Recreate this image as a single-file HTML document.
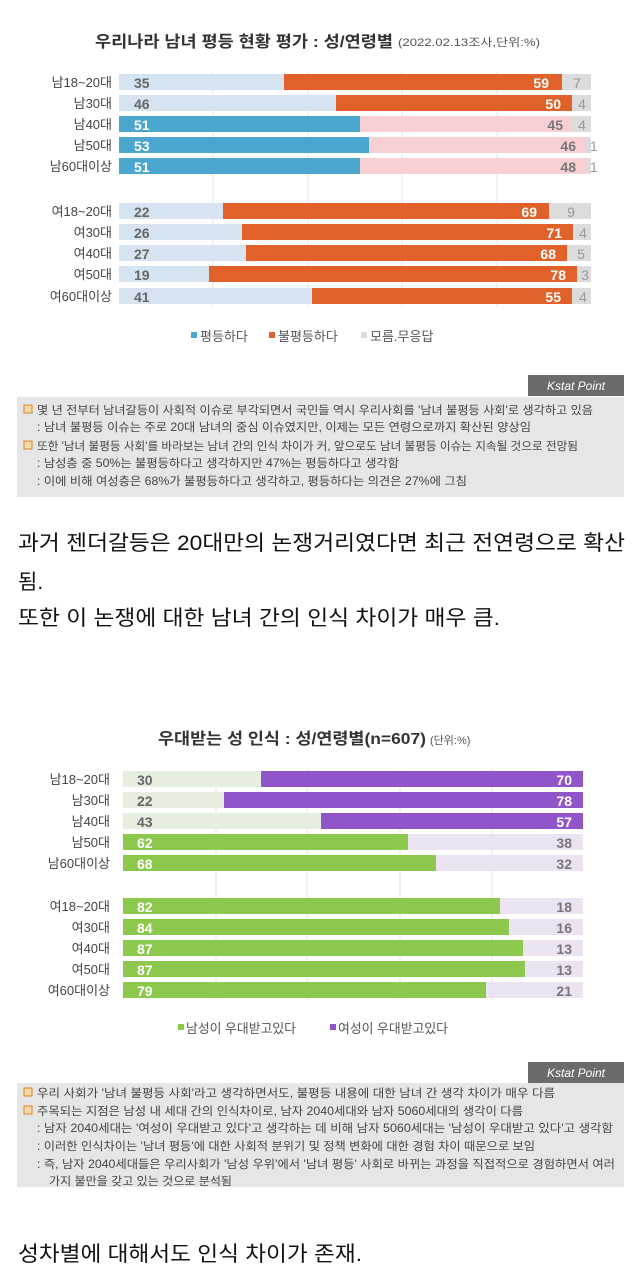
<!DOCTYPE html>
<html><head><meta charset="utf-8"><style>
html,body{margin:0;padding:0;background:#fff;}
svg{display:block;font-family:"Liberation Sans","Noto Sans CJK KR",sans-serif;}
</style></head><body>
<svg width="640" height="1280" viewBox="0 0 640 1280" xmlns="http://www.w3.org/2000/svg">
<rect width="640" height="1280" fill="#fff"/>

<!-- Chart 1 -->
<text x="95" y="47" font-size="16" font-weight="bold" fill="#333" textLength="298" lengthAdjust="spacingAndGlyphs">우리나라 남녀 평등 현황 평가 : 성/연령별</text>
<text x="398" y="46" font-size="11" fill="#555" textLength="142" lengthAdjust="spacingAndGlyphs">(2022.02.13조사,단위:%)</text>
<g stroke="#e4e4e4" stroke-width="1">
<line x1="213" y1="72" x2="213" y2="306"/><line x1="308" y1="72" x2="308" y2="306"/><line x1="402" y1="72" x2="402" y2="306"/><line x1="497" y1="72" x2="497" y2="306"/>
</g>
<g font-size="13" fill="#444" text-anchor="end">
<text x="112" y="87">남18~20대</text><text x="112" y="108">남30대</text><text x="112" y="129">남40대</text><text x="112" y="150">남50대</text><text x="112" y="171">남60대이상</text>
<text x="112" y="216">여18~20대</text><text x="112" y="237">여30대</text><text x="112" y="258">여40대</text><text x="112" y="279">여50대</text><text x="112" y="301">여60대이상</text>
</g>
<g id="c1bars"></g>
<!-- rows: y top = center-8 -->
<g>
<!-- M18-20: 35,59,7 -->
<rect x="119" y="74" width="472" height="16" fill="#dcdcdc"/><rect x="119" y="74" width="165" height="16" fill="#d6e3f1"/><rect x="284" y="74" width="278" height="16" fill="#e0622a"/>
<!-- M30: 46,50,4 -->
<rect x="119" y="95" width="472" height="16" fill="#dcdcdc"/><rect x="119" y="95" width="217" height="16" fill="#d6e3f1"/><rect x="336" y="95" width="236" height="16" fill="#e0622a"/>
<!-- M40: 51,45,4 -->
<rect x="119" y="116" width="472" height="16" fill="#dcdcdc"/><rect x="119" y="116" width="241" height="16" fill="#4aa6cf"/><rect x="360" y="116" width="212" height="16" fill="#f7d0d4"/>
<!-- M50: 53,46,1 -->
<rect x="119" y="137" width="472" height="16" fill="#dcdcdc"/><rect x="119" y="137" width="250" height="16" fill="#4aa6cf"/><rect x="369" y="137" width="217" height="16" fill="#f7d0d4"/>
<!-- M60: 51,48,1 -->
<rect x="119" y="158" width="472" height="16" fill="#dcdcdc"/><rect x="119" y="158" width="241" height="16" fill="#4aa6cf"/><rect x="360" y="158" width="227" height="16" fill="#f7d0d4"/>
<!-- W18-20: 22,69,9 -->
<rect x="119" y="203" width="472" height="16" fill="#dcdcdc"/><rect x="119" y="203" width="104" height="16" fill="#d6e3f1"/><rect x="223" y="203" width="326" height="16" fill="#e0622a"/>
<!-- W30: 26,71,4 -->
<rect x="119" y="224" width="472" height="16" fill="#dcdcdc"/><rect x="119" y="224" width="123" height="16" fill="#d6e3f1"/><rect x="242" y="224" width="331" height="16" fill="#e0622a"/>
<!-- W40: 27,68,5 -->
<rect x="119" y="245" width="472" height="16" fill="#dcdcdc"/><rect x="119" y="245" width="127" height="16" fill="#d6e3f1"/><rect x="246" y="245" width="321" height="16" fill="#e0622a"/>
<!-- W50: 19,78,3 -->
<rect x="119" y="266" width="472" height="16" fill="#dcdcdc"/><rect x="119" y="266" width="90" height="16" fill="#d6e3f1"/><rect x="209" y="266" width="368" height="16" fill="#e0622a"/>
<!-- W60: 41,55,4 -->
<rect x="119" y="288" width="472" height="16" fill="#dcdcdc"/><rect x="119" y="288" width="193" height="16" fill="#d6e3f1"/><rect x="312" y="288" width="260" height="16" fill="#e0622a"/>
</g>
<g font-size="14" font-weight="bold">
<text x="134" y="88" fill="#666">35</text><text x="549" y="88" fill="#fff" text-anchor="end">59</text><text x="577" y="88" fill="#999" text-anchor="middle" font-weight="normal">7</text>
<text x="134" y="109" fill="#666">46</text><text x="561" y="109" fill="#fff" text-anchor="end">50</text><text x="582" y="109" fill="#999" text-anchor="middle" font-weight="normal">4</text>
<text x="134" y="130" fill="#fff">51</text><text x="563" y="130" fill="#777" text-anchor="end">45</text><text x="582" y="130" fill="#999" text-anchor="middle" font-weight="normal">4</text>
<text x="134" y="151" fill="#fff">53</text><text x="576" y="151" fill="#777" text-anchor="end">46</text><text x="590" y="151" fill="#999" font-weight="normal">1</text>
<text x="134" y="172" fill="#fff">51</text><text x="576" y="172" fill="#777" text-anchor="end">48</text><text x="590" y="172" fill="#999" font-weight="normal">1</text>
<text x="134" y="217" fill="#666">22</text><text x="537" y="217" fill="#fff" text-anchor="end">69</text><text x="571" y="217" fill="#999" text-anchor="middle" font-weight="normal">9</text>
<text x="134" y="238" fill="#666">26</text><text x="562" y="238" fill="#fff" text-anchor="end">71</text><text x="583" y="238" fill="#999" text-anchor="middle" font-weight="normal">4</text>
<text x="134" y="259" fill="#666">27</text><text x="556" y="259" fill="#fff" text-anchor="end">68</text><text x="581" y="259" fill="#999" text-anchor="middle" font-weight="normal">5</text>
<text x="134" y="280" fill="#666">19</text><text x="566" y="280" fill="#fff" text-anchor="end">78</text><text x="585" y="280" fill="#999" text-anchor="middle" font-weight="normal">3</text>
<text x="134" y="302" fill="#666">41</text><text x="561" y="302" fill="#fff" text-anchor="end">55</text><text x="583" y="302" fill="#999" text-anchor="middle" font-weight="normal">4</text>
</g>
<g font-size="13" fill="#555">
<rect x="191" y="332" width="6" height="6" fill="#4aa6cf"/><text x="200" y="341">평등하다</text>
<rect x="269" y="332" width="6" height="6" fill="#e0622a"/><text x="278" y="341">불평등하다</text>
<rect x="361" y="332" width="6" height="6" fill="#dcdcdc"/><text x="370" y="341">모름.무응답</text>
</g>

<!-- Kstat box 1 -->
<rect x="528" y="375" width="96" height="21" fill="#6b6b6b"/>
<text x="576" y="390" font-size="12" font-style="italic" fill="#fff" text-anchor="middle">Kstat  Point</text>
<rect x="17" y="397" width="607" height="100" fill="#e6e6e6"/>
<g font-size="11.5" fill="#444">
<rect x="24" y="405" width="8" height="8" fill="#f3d9a4" stroke="#d9822b"/>
<text x="37" y="414" textLength="556" lengthAdjust="spacingAndGlyphs">몇 년 전부터 남녀갈등이 사회적 이슈로 부각되면서 국민들 역시 우리사회를 '남녀 불평등 사회'로 생각하고 있음</text>
<text x="37" y="431" textLength="494" lengthAdjust="spacingAndGlyphs">: 남녀 불평등 이슈는 주로 20대 남녀의 중심 이슈였지만, 이제는 모든 연령으로까지 확산된 양상임</text>
<rect x="24" y="441" width="8" height="8" fill="#f3d9a4" stroke="#d9822b"/>
<text x="37" y="450" textLength="541" lengthAdjust="spacingAndGlyphs">또한 '남녀 불평등 사회'를 바라보는 남녀 간의 인식 차이가 커, 앞으로도 남녀 불평등 이슈는 지속될 것으로 전망됨</text>
<text x="37" y="467" textLength="362" lengthAdjust="spacingAndGlyphs">: 남성층 중 50%는 불평등하다고 생각하지만 47%는 평등하다고 생각함</text>
<text x="37" y="485" textLength="430" lengthAdjust="spacingAndGlyphs">: 이에 비해 여성층은 68%가 불평등하다고 생각하고, 평등하다는 의견은 27%에 그침</text>
</g>

<g font-size="21" fill="#111">
<text x="18" y="550" textLength="607" lengthAdjust="spacingAndGlyphs">과거 젠더갈등은 20대만의 논쟁거리였다면 최근 전연령으로 확산</text>
<text x="18" y="589">됨.</text>
<text x="18" y="625" textLength="482" lengthAdjust="spacingAndGlyphs">또한 이 논쟁에 대한 남녀 간의 인식 차이가 매우 큼.</text>
</g>

<!-- Chart 2 -->
<text x="158" y="744" font-size="16" font-weight="bold" fill="#333" textLength="268" lengthAdjust="spacingAndGlyphs">우대받는 성 인식 : 성/연령별(n=607)</text>
<text x="430" y="744" font-size="11" fill="#555">(단위:%)</text>
<g stroke="#e4e4e4" stroke-width="1">
<line x1="216" y1="769" x2="216" y2="1000"/><line x1="307" y1="769" x2="307" y2="1000"/><line x1="400" y1="769" x2="400" y2="1000"/><line x1="492" y1="769" x2="492" y2="1000"/>
</g>
<g font-size="13" fill="#444" text-anchor="end">
<text x="110" y="784">남18~20대</text><text x="110" y="805">남30대</text><text x="110" y="826">남40대</text><text x="110" y="847">남50대</text><text x="110" y="868">남60대이상</text>
<text x="110" y="911">여18~20대</text><text x="110" y="932">여30대</text><text x="110" y="953">여40대</text><text x="110" y="974">여50대</text><text x="110" y="995">여60대이상</text>
</g>
<g>
<rect x="123" y="771" width="138" height="16" fill="#e6eedf"/><rect x="261" y="771" width="322" height="16" fill="#9056c9"/>
<rect x="123" y="792" width="101" height="16" fill="#e6eedf"/><rect x="224" y="792" width="359" height="16" fill="#9056c9"/>
<rect x="123" y="813" width="198" height="16" fill="#e6eedf"/><rect x="321" y="813" width="262" height="16" fill="#9056c9"/>
<rect x="123" y="834" width="285" height="16" fill="#8cc84b"/><rect x="408" y="834" width="175" height="16" fill="#ebe2f2"/>
<rect x="123" y="855" width="313" height="16" fill="#8cc84b"/><rect x="436" y="855" width="147" height="16" fill="#ebe2f2"/>
<rect x="123" y="898" width="377" height="16" fill="#8cc84b"/><rect x="500" y="898" width="83" height="16" fill="#ebe2f2"/>
<rect x="123" y="919" width="386" height="16" fill="#8cc84b"/><rect x="509" y="919" width="74" height="16" fill="#ebe2f2"/>
<rect x="123" y="940" width="400" height="16" fill="#8cc84b"/><rect x="523" y="940" width="60" height="16" fill="#ebe2f2"/>
<rect x="123" y="961" width="402" height="16" fill="#8cc84b"/><rect x="525" y="961" width="58" height="16" fill="#ebe2f2"/>
<rect x="123" y="982" width="363" height="16" fill="#8cc84b"/><rect x="486" y="982" width="97" height="16" fill="#ebe2f2"/>
</g>
<g font-size="14" font-weight="bold">
<text x="137" y="785" fill="#666">30</text><text x="572" y="785" fill="#fff" text-anchor="end">70</text>
<text x="137" y="806" fill="#666">22</text><text x="572" y="806" fill="#fff" text-anchor="end">78</text>
<text x="137" y="827" fill="#666">43</text><text x="572" y="827" fill="#fff" text-anchor="end">57</text>
<text x="137" y="848" fill="#fff">62</text><text x="572" y="848" fill="#777" text-anchor="end">38</text>
<text x="137" y="869" fill="#fff">68</text><text x="572" y="869" fill="#777" text-anchor="end">32</text>
<text x="137" y="912" fill="#fff">82</text><text x="572" y="912" fill="#777" text-anchor="end">18</text>
<text x="137" y="933" fill="#fff">84</text><text x="572" y="933" fill="#777" text-anchor="end">16</text>
<text x="137" y="954" fill="#fff">87</text><text x="572" y="954" fill="#777" text-anchor="end">13</text>
<text x="137" y="975" fill="#fff">87</text><text x="572" y="975" fill="#777" text-anchor="end">13</text>
<text x="137" y="996" fill="#fff">79</text><text x="572" y="996" fill="#777" text-anchor="end">21</text>
</g>
<g font-size="13" fill="#555">
<rect x="178" y="1024" width="6" height="6" fill="#8cc84b"/><text x="186" y="1033" textLength="110" lengthAdjust="spacingAndGlyphs">남성이 우대받고있다</text>
<rect x="330" y="1024" width="6" height="6" fill="#9056c9"/><text x="338" y="1033" textLength="110" lengthAdjust="spacingAndGlyphs">여성이 우대받고있다</text>
</g>

<!-- Kstat box 2 -->
<rect x="528" y="1062" width="96" height="21" fill="#6b6b6b"/>
<text x="576" y="1077" font-size="12" font-style="italic" fill="#fff" text-anchor="middle">Kstat  Point</text>
<rect x="17" y="1083" width="607" height="104" fill="#e6e6e6"/>
<g font-size="11.5" fill="#444">
<rect x="24" y="1088" width="8" height="8" fill="#f3d9a4" stroke="#d9822b"/>
<text x="37" y="1097" textLength="518" lengthAdjust="spacingAndGlyphs">우리 사회가 '남녀 불평등 사회'라고 생각하면서도, 불평등 내용에 대한 남녀 간 생각 차이가 매우 다름</text>
<rect x="24" y="1106" width="8" height="8" fill="#f3d9a4" stroke="#d9822b"/>
<text x="37" y="1115" textLength="486" lengthAdjust="spacingAndGlyphs">주목되는 지점은 남성 내 세대 간의 인식차이로, 남자 2040세대와 남자 5060세대의 생각이 다름</text>
<text x="37" y="1132" textLength="576" lengthAdjust="spacingAndGlyphs">: 남자 2040세대는 '여성이 우대받고 있다'고 생각하는 데 비해 남자 5060세대는 '남성이 우대받고 있다'고 생각함</text>
<text x="37" y="1150" textLength="498" lengthAdjust="spacingAndGlyphs">: 이러한 인식차이는 '남녀 평등'에 대한 사회적 분위기 및 정책 변화에 대한 경험 차이 때문으로 보임</text>
<text x="37" y="1168" textLength="578" lengthAdjust="spacingAndGlyphs">: 즉, 남자 2040세대들은 우리사회가 '남성 우위'에서 '남녀 평등' 사회로 바뀌는 과정을 직접적으로 경험하면서 여러</text>
<text x="49" y="1185" textLength="183" lengthAdjust="spacingAndGlyphs">가지 불만을 갖고 있는 것으로 분석됨</text>
</g>

<text x="18" y="1261" font-size="21" fill="#111" textLength="344" lengthAdjust="spacingAndGlyphs">성차별에 대해서도 인식 차이가 존재.</text>
</svg>
</body></html>
